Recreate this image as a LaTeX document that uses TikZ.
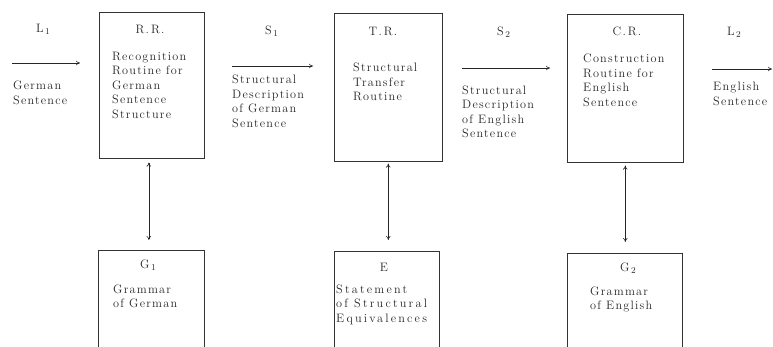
\documentclass[tikz,border=0pt]{standalone}
\usepackage{fontspec}
\setmainfont{Latin Modern Roman}
\newfontfamily\spacedfont{Latin Modern Roman}[LetterSpace=10]
\newfontfamily\widefont{Latin Modern Roman}[LetterSpace=18]
\usetikzlibrary{arrows.meta}
% lowered index digit, as in L1, S2, G1
\newcommand\lowidx[1]{\kern1.5pt\raisebox{-0.55ex}{\small #1}}
\begin{document}
\begin{tikzpicture}[x=1pt,y=-1pt,
  ink/.style={black!85},
  txtfont/.style={font=\spacedfont\fontsize{12.2}{14.5}\selectfont},
  block/.style={draw=black!80, line width=0.6pt, rectangle, anchor=north west, inner sep=0pt},
  para/.style={txtfont, ink, inner sep=0pt, align=left, anchor=north west},
  head/.style={txtfont, ink, inner sep=0pt, anchor=base},
  headw/.style={txtfont, ink, inner sep=0pt, anchor=base west},
  flow/.style={draw=black!85, line width=0.6pt, -{To[length=4pt,width=4.5pt]}},
  link/.style={draw=black!85, line width=0.6pt, {To[length=4pt,width=4.5pt]}-{To[length=4pt,width=4.5pt]}}
]
\useasboundingbox (0,0) rectangle (773,346);
\clip (0,0) rectangle (773,346);

% routine boxes
\node[block, minimum width=105pt, minimum height=146pt] (rr) at (99,12) {};
\node[block, minimum width=108pt, minimum height=148pt] (tr) at (334,13) {};
\node[block, minimum width=116pt, minimum height=148pt] (cr) at (567,14) {};

% grammar boxes (run off the lower edge)
\node[block, minimum width=106pt, minimum height=130pt] (g1) at (98,250) {};
\node[block, minimum width=105pt, minimum height=130pt] (eq) at (334,251) {};
\node[block, minimum width=115pt, minimum height=130pt] (g2) at (567,253) {};

% box headings
\node[head] (rrh) at (150,33) {R.\,R.};
\node[head] (trh) at (383,35) {T.\,R.};
\node[head] (crh) at (627,35) {C.\,R.};
\node[headw] (g1h) at (140,268) {G\lowidx{1}};
\node[head] (eqh) at (384,271) {E};
\node[headw] (g2h) at (620,271) {G\lowidx{2}};

% box contents
\node[para] (rrt) at (112,51.6) {Recognition\\Routine for\\German\\Sentence\\Structure};
\node[para] (trt) at (353,63) {Structural\\Transfer\\Routine};
\node[para] (crt) at (583,54) {Construction\\Routine for\\English\\Sentence};
\node[para] (g1t) at (113,284.6) {Grammar\\of German};
\node[para, font=\widefont\fontsize{12.2}{14.5}\selectfont] (eqt) at (336,284.6) {Statement\\of Structural\\Equivalences};
\node[para] (g2t) at (590,286.6) {Grammar\\of English};

% labels of the flow between the routines
\node[headw] (l1h) at (36,32) {L\lowidx{1}};
\node[headw] (s1h) at (265,34) {S\lowidx{1}};
\node[headw] (s2h) at (497,35) {S\lowidx{2}};
\node[headw] (l2h) at (727,35) {L\lowidx{2}};
\node[para] (l1t) at (13,81) {German\\Sentence};
\node[para] (s1t) at (232,75) {Structural\\Description\\of German\\Sentence};
\node[para] (s2t) at (462,85.5) {Structural\\Description\\of English\\Sentence};
\node[para] (l2t) at (713,82) {English\\Sentence};

% flow arrows
\coordinate (in0) at (12,63);
\coordinate (in1) at (80,63);
\coordinate (a0) at (232,66);
\coordinate (a1) at (313,66);
\coordinate (b0) at (462,68);
\coordinate (b1) at (550,68);
\coordinate (out0) at (712,69);
\coordinate (out1) at (772,69);
\draw[flow] (in0) -- (in1);
\draw[flow] (a0) -- (a1);
\draw[flow] (b0) -- (b1);
\draw[flow] (out0) -- (out1);

% routines consult their grammars
\draw[link, shorten <=4pt, shorten >=10pt] ([xshift=-3pt]rr.south) -- ([xshift=-3pt]rr.south |- g1.north);
\draw[link, shorten <=2pt, shorten >=11pt] (tr.south) -- (tr.south |- eq.north);
\draw[link, shorten <=3pt, shorten >=11pt] (cr.south) -- (cr.south |- g2.north);
\end{tikzpicture}
\end{document}
